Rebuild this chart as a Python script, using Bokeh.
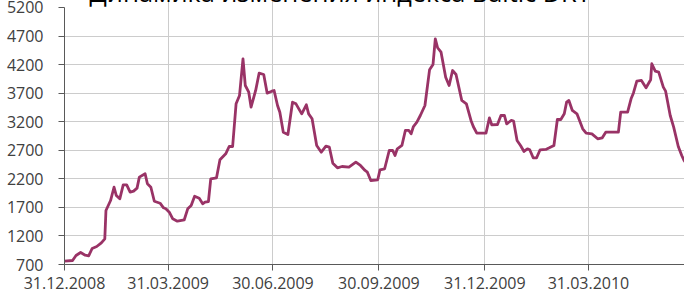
from bokeh.plotting import figure
from bokeh.models import FixedTicker, Range1d, Label
from bokeh.embed import file_html
from bokeh.resources import INLINE

# Days since 31.12.2008 and Baltic Dry Index values
days = [0, 7, 10, 14, 18, 21, 24, 28, 32, 35, 36, 40, 43, 45, 48, 51, 54, 57, 60, 63,
        65, 70, 72, 75, 78, 83, 86, 88, 91, 94, 98, 104, 107, 110, 113, 117, 120, 122, 125, 127,
        132, 135, 140, 143, 146, 149, 152, 155, 157, 160, 162, 166, 169, 173, 176, 180, 182, 185, 187, 190,
        194, 198, 201, 206, 210, 212, 215, 219, 223, 227, 230, 233, 237, 241, 247, 253, 257, 261, 263, 266,
        272, 274, 278, 282, 285, 287, 289, 293, 296, 299, 301, 303, 306, 309, 313, 317, 320, 322, 324, 327,
        331, 334, 337, 340, 345, 349, 353, 355, 358, 366, 369, 371, 376, 379, 382, 384, 388, 390, 393, 396,
        399, 402, 404, 407, 410, 413, 418, 421, 425, 428, 431, 434, 436, 438, 441, 445, 450, 453, 458, 463,
        467, 470, 481, 483, 489, 492, 494, 497, 501, 505, 509, 510, 513, 516, 520, 522, 526, 529, 533, 536,
        538, 541]
bdi = [760, 770, 857, 910, 863, 852, 980, 1015, 1080, 1150, 1645, 1820, 2053, 1908, 1850, 2095, 2095, 1966, 1985, 2037,
       2230, 2290, 2113, 2053, 1808, 1773, 1693, 1676, 1616, 1500, 1458, 1483, 1675, 1733, 1896, 1860, 1763, 1791, 1803, 2200,
       2218, 2533, 2638, 2766, 2766, 3514, 3660, 4302, 3834, 3717, 3455, 3747, 4050, 4027, 3700, 3735, 3747, 3484, 3367, 3017,
       2976, 3542, 3513, 3338, 3496, 3338, 3251, 2784, 2666, 2771, 2754, 2474, 2393, 2416, 2404, 2491, 2434, 2346, 2316, 2171,
       2183, 2358, 2376, 2696, 2696, 2609, 2726, 2784, 3047, 3047, 2988, 3116, 3192, 3309, 3484, 4108, 4201, 4650, 4495, 4418,
       3980, 3834, 4097, 4027, 3572, 3513, 3222, 3116, 2999, 2999, 3268, 3146, 3151, 3309, 3309, 3163, 3222, 3210, 2871, 2784,
       2679, 2726, 2708, 2568, 2568, 2708, 2714, 2743, 2784, 3239, 3239, 3338, 3542, 3572, 3397, 3338, 3076, 2999, 2988, 2901,
       2918, 3017, 3017, 3367, 3367, 3601, 3700, 3910, 3922, 3794, 3934, 4215, 4085, 4068, 3805, 3735, 3309, 3105, 2766, 2609,
       2521, 2440]

tick_days = [0, 90, 181, 273, 365, 455]
tick_labels = ["31.12.2008", "31.03.2009", "30.06.2009", "30.09.2009", "31.12.2009", "31.03.2010"]
y_ticks = [700, 1200, 1700, 2200, 2700, 3200, 3700, 4200, 4700, 5200]
title_text = "Динамика изменения индекса Baltic DRY"

FONT = "Open Sans"
TXT = "#404040"

p = figure(width=684, height=324, output_backend="svg", toolbar_location=None,
           x_range=Range1d(0, 538.4), y_range=Range1d(700, 5375),
           min_border_left=64, min_border_right=0, min_border_top=19, min_border_bottom=38,
           styles={"margin-top": "-22px"})
p.outline_line_color = None
p.background_fill_color = "white"
p.border_fill_color = "white"

p.line(days, bdi, line_color="#993366", line_width=2.8, line_join="round")

# axes
p.xaxis.ticker = FixedTicker(ticks=tick_days)
p.xaxis.major_label_overrides = {d: l for d, l in zip(tick_days, tick_labels)}
p.yaxis.ticker = FixedTicker(ticks=y_ticks)
p.yaxis.bounds = (700, 5200)
for ax in (p.xaxis[0], p.yaxis[0]):
    ax.axis_line_color = "#595959"
    ax.axis_line_width = 1
    ax.major_tick_line_color = "#595959"
    ax.major_tick_in = 0
    ax.major_tick_out = 6
    ax.minor_tick_line_color = None
    ax.major_label_text_font = FONT
    ax.major_label_text_font_size = "16px"
    ax.major_label_text_color = TXT
p.xaxis.major_label_standoff = 6
p.yaxis.major_label_standoff = 15

p.xgrid.ticker = FixedTicker(ticks=tick_days[1:])
p.xgrid.grid_line_color = "#cccccc"
p.xgrid.grid_line_width = 1
p.ygrid.ticker = FixedTicker(ticks=y_ticks[1:-1])
p.ygrid.grid_line_color = "#cccccc"
p.ygrid.grid_line_width = 1

p.add_layout(Label(x=21.7, y=5183, y_offset=16, text=title_text, text_font=FONT,
                   text_font_size="25.3px", text_color="#000000",
                   text_baseline="alphabetic", text_align="left"))

open("out.html", "w").write(file_html(p, INLINE))
